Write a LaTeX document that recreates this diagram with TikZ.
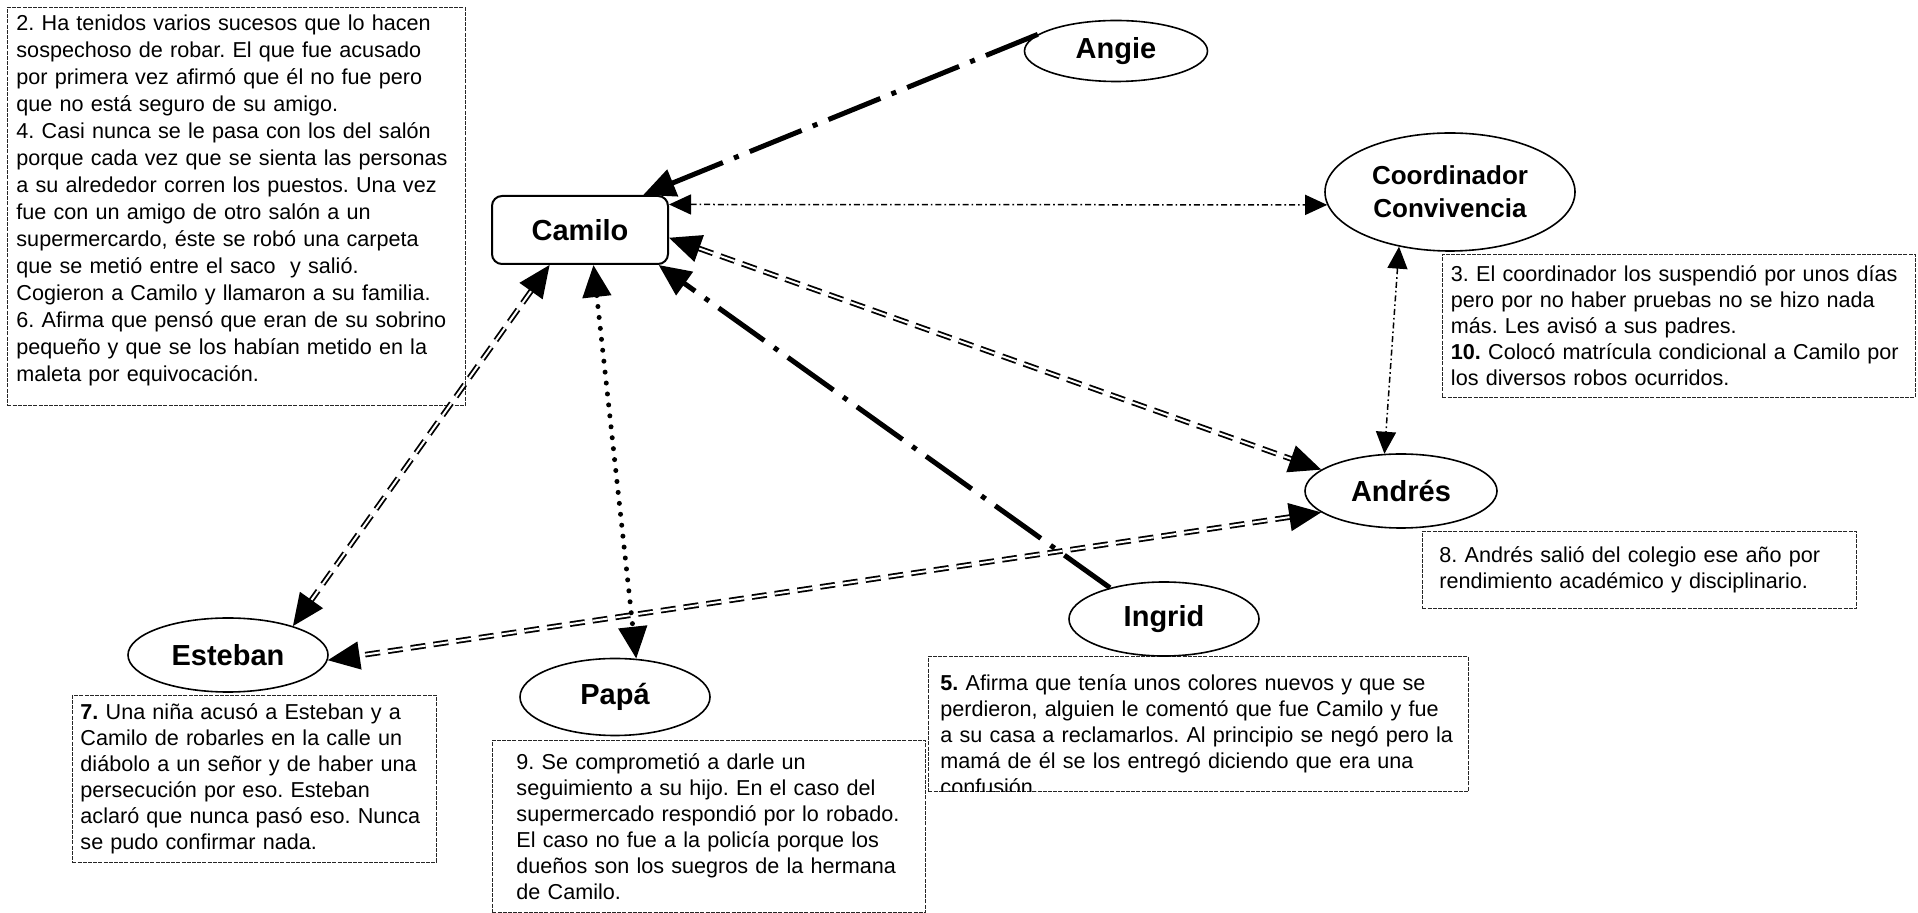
\documentclass[tikz,border=0pt]{standalone}
\usepackage{fontspec}
\setmainfont{Liberation Sans}
\usepackage{tikz}
\usetikzlibrary{shapes.geometric, arrows.meta}
\frenchspacing
\hyphenpenalty=10000
\exhyphenpenalty=10000

\tikzset{
  Big/.tip={Triangle[length=16pt,width=14pt]},
  Small/.tip={Triangle[length=11pt,width=10pt]},
  person/.style={ellipse, draw, line width=0.8pt, fill=white, inner sep=0pt,
    font=\fontsize{14.5pt}{16.5pt}\selectfont\bfseries},
  main/.style={rectangle, rounded corners=5pt, draw, line width=1pt, fill=white,
    minimum width=88pt, minimum height=34pt,
    font=\fontsize{14.5pt}{16.5pt}\selectfont\bfseries},
  note/.style={rectangle, draw=black!85, line width=0.45pt,
    dash pattern=on 2pt off 0.6pt, anchor=north west, align=left,
    inner ysep=0pt, font=\fontsize{10.8pt}{13pt}\selectfont},
  accuse/.style={line width=2.5pt, dash pattern=on 28pt off 6pt on 2.5pt off 6pt, -Big},
  friend/.style={double, line width=0.9pt, double distance=1pt,
    dash pattern=on 7.5pt off 4pt, Big-Big},
  family/.style={line width=2.5pt, line cap=round, dash pattern=on 0pt off 5.5pt, Big-Big},
  school/.style={line width=0.75pt, dash pattern=on 3pt off 1.5pt on 0.8pt off 1.5pt, Small-Small}
}

\begin{document}
\begin{tikzpicture}[x=0.5pt, y=-0.5pt]
  % Frame in scan pixels
  \useasboundingbox (0,0) rectangle (1918,913);

  % Notes
  \node[note, text width=220pt, inner xsep=4.5pt, minimum height=199pt,
    font=\fontsize{10.8pt}{13.5pt}\selectfont] (camilonote) at (7,7)
    {2. Ha tenidos varios sucesos que lo hacen\\
     sospechoso de robar. El que fue acusado\\
     por primera vez afirmó que él no fue pero\\
     que no está seguro de su amigo.\\
     4. Casi nunca se le pasa con los del salón\\
     porque cada vez que se sienta las personas\\
     a su alrededor corren los puestos. Una vez\\
     fue con un amigo de otro salón a un\\
     supermercardo, éste se robó una carpeta\\
     que se metió entre el saco~ y salió.\\
     Cogieron a Camilo y llamaron a su familia.\\
     6. Afirma que pensó que eran de su sobrino\\
     pequeño y que se los habían metido en la\\
     maleta por equivocación.\\[-5pt] \mbox{}};
  \node[note, text width=228pt, inner xsep=4.25pt, minimum height=71.5pt] (coordnote) at (1442,254)
    {3. El coordinador los suspendió por unos días\\
     pero por no haber pruebas no se hizo nada\\
     más. Les avisó a sus padres.\\
     \textbf{10.} Colocó matrícula condicional a Camilo por\\
     los diversos robos ocurridos.};
  \node[note, text width=200pt, inner xsep=8.5pt, minimum height=38.5pt] (andresnote) at (1422,531)
    {8. Andrés salió del colegio ese año por\\
     rendimiento académico y disciplinario.};
  \node[note, text width=174pt, inner xsep=4pt, minimum height=83.5pt] (estebannote) at (72,695)
    {\textbf{7.} Una niña acusó a Esteban y a\\
     Camilo de robarles en la calle un\\
     diábolo a un señor y de haber una\\
     persecución por eso. Esteban\\
     aclaró que nunca pasó eso. Nunca\\
     se pudo confirmar nada.};
  \node[note, text width=192.5pt, inner xsep=12pt, minimum height=86pt] (papanote) at (492,740)
    {9. Se comprometió a darle un\\
     seguimiento a su hijo. En el caso del\\
     supermercado respondió por lo robado.\\
     El caso no fue a la policía porque los\\
     dueños son los suegros de la hermana\\
     de Camilo.};
  \node[note, minimum width=270pt, minimum height=67.5pt] (ingridnote) at (928,656) {};
  \begin{scope}
    \clip (ingridnote.north west) rectangle (ingridnote.south east);
    \node[note, draw=none, text width=258pt, inner xsep=6pt, inner ysep=9pt] (ingridtext) at (928,656)
      {\textbf{5.} Afirma que tenía unos colores nuevos y que se\\
       perdieron, alguien le comentó que fue Camilo y fue\\
       a su casa a reclamarlos. Al principio se negó pero la\\
       mamá de él se los entregó diciendo que era una\\
       confusión.};
  \end{scope}

  % People
  \node[main] (camilo) at (580,230) {Camilo};
  \node[person, minimum width=91.5pt, minimum height=30.5pt] (angie) at (1116,51) {Angie};
  \node[person, minimum width=125pt, minimum height=59pt, align=center,
    font=\fontsize{13pt}{16.5pt}\selectfont\bfseries] (coord) at (1450,192)
    {Coordinador\\Convivencia};
  \node[person, minimum width=96pt, minimum height=37pt] (andres) at (1401,491) {Andrés};
  \node[person, minimum width=95pt, minimum height=37pt] (ingrid) at (1164,619) {Ingrid};
  \node[person, minimum width=100pt, minimum height=37pt] (esteban) at (228,655) {Esteban};
  \node[person, minimum width=95pt, minimum height=38.5pt] (papa) at (615,697) {Papá};

  % Links
  \draw[accuse] (angie.168) -- (camilo.29);
  \draw[accuse] (ingrid.150) -- (camilo.-24);
  \draw[school] (camilo.16) -- (coord.186);
  \draw[school] (coord.-133) -- (andres.114);
  \draw[friend] (camilo.-5) -- (andres.165);
  \draw[friend] (andres.195) -- (esteban.-3);
  \draw[friend] (camilo.-131) -- (esteban.24);
  \draw[family] (camilo.-69) -- (papa.61);
\end{tikzpicture}
\end{document}
